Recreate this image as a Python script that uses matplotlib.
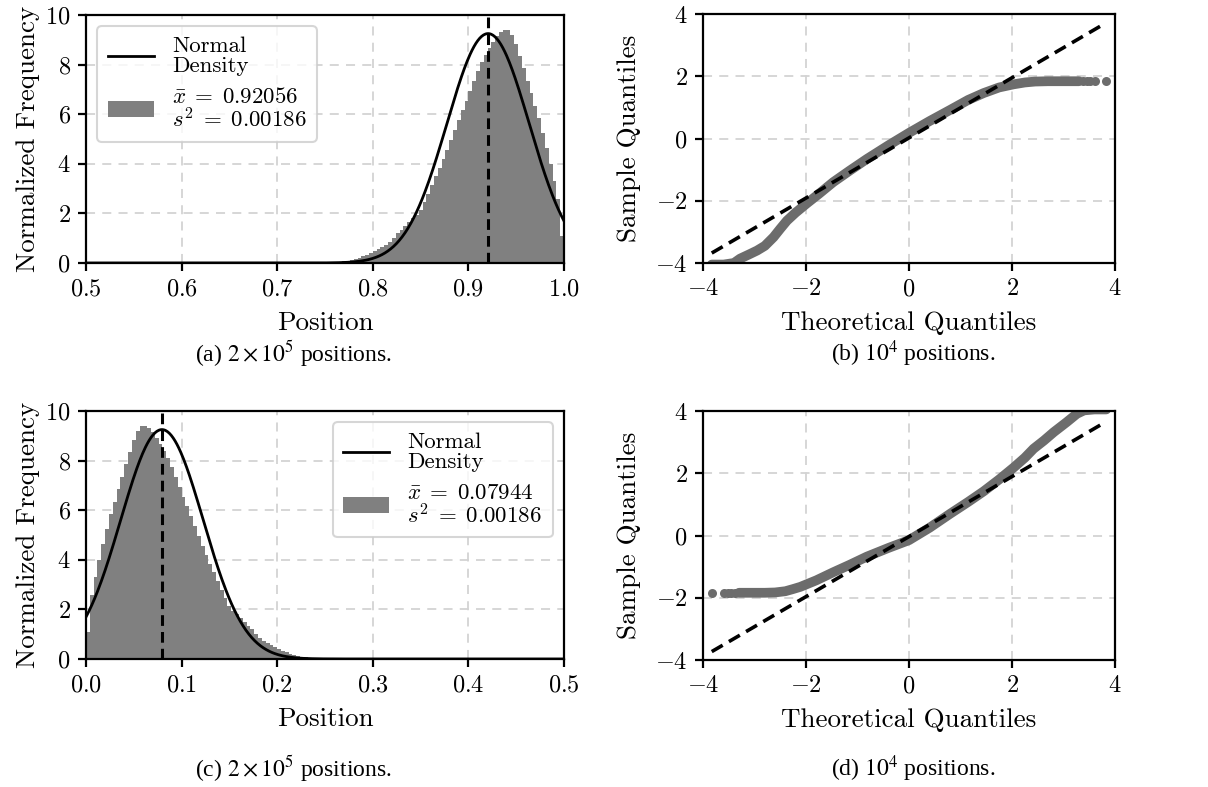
import matplotlib
matplotlib.use("Agg")
import matplotlib.pyplot as plt
import numpy as np

plt.rcParams["font.family"] = "serif"
plt.rcParams["font.serif"] = ["cmr10"]
plt.rcParams["mathtext.fontset"] = "cm"
plt.rcParams["axes.formatter.use_mathtext"] = True
plt.rcParams["axes.unicode_minus"] = True

# histogram (a): bin heights, width 0.004 starting at 0.740
hist_a_start = 0.740
hist_width = 0.004
hist_a_heights = [
    0.00, 0.01, 0.01, 0.02, 0.03, 0.04, 0.05, 0.07, 0.09, 0.12,
    0.16, 0.21, 0.27, 0.33, 0.40, 0.48, 0.56, 0.64, 0.72, 0.85,
    1.02, 1.20, 1.35, 1.50, 1.65, 1.80, 1.95, 2.15, 2.45, 2.80,
    3.15, 3.50, 3.85, 4.20, 4.55, 4.95, 5.35, 5.75, 6.15, 6.55,
    6.95, 7.35, 7.75, 8.10, 8.40, 8.65, 8.90, 9.15, 9.30, 9.40,
    9.38, 9.20, 8.85, 8.35, 7.85, 7.35, 6.85, 6.35, 5.85, 5.25,
    4.65, 4.00, 3.30, 2.60, 1.10,
]
mean_a, var_a = 0.92056, 0.00186
# histogram (c) is the mirror image of (a) around 0.5
hist_c_heights = hist_a_heights[::-1]
mean_c, var_c = 0.07944, 0.00186

# QQ plot (b)
qq_b_x = [-3.83, -3.6, -3.4, -3.28, -3.1, -2.95, -2.8, -2.63, -2.5, -2.37,
          -2.2, -1.98, -1.75, -1.47, -1.15, -0.82, -0.4, 0.0, 0.4, 0.8,
          1.15, 1.45, 1.75, 2.03, 2.25, 2.45, 2.7, 3.0, 3.2, 3.3]
qq_b_y = [-4.05, -4.05, -4.0, -3.86, -3.72, -3.6, -3.45, -3.17, -2.9, -2.64,
          -2.38, -2.08, -1.78, -1.40, -1.03, -0.66, -0.22, 0.18, 0.56, 0.92,
          1.24, 1.46, 1.64, 1.74, 1.80, 1.83, 1.84, 1.84, 1.84, 1.84]
qq_b_tail_x = [3.38, 3.45, 3.52, 3.62, 3.82]
qq_b_tail_y = [1.84, 1.84, 1.84, 1.84, 1.84]
qq_b_line_x = [-3.83, 3.81]
qq_b_line_y = [-3.68, 3.70]

# QQ plot (d)
qq_d_x = [-3.3, -3.1, -2.8, -2.6, -2.4, -2.25, -2.11, -1.8, -1.47, -1.15,
          -0.82, -0.4, 0.0, 0.4, 0.8, 1.15, 1.45, 1.75, 2.03, 2.25,
          2.42, 2.62, 2.81, 3.06, 3.26, 3.4, 3.6, 3.83]
qq_d_y = [-1.84, -1.84, -1.84, -1.83, -1.79, -1.72, -1.65, -1.44, -1.18, -0.94,
          -0.68, -0.40, -0.15, 0.25, 0.70, 1.08, 1.42, 1.80, 2.18, 2.50,
          2.79, 3.05, 3.32, 3.64, 3.91, 4.02, 4.05, 4.05]
qq_d_tail_x = [-3.82, -3.6, -3.52, -3.45, -3.38]
qq_d_tail_y = [-1.84, -1.84, -1.84, -1.84, -1.84]
qq_d_line_x = [-3.83, 3.81]
qq_d_line_y = [-3.73, 3.64]

captions = [
    r"(a) $2\times10^5$ positions.",
    r"(b) $10^4$ positions.",
    r"(c) $2\times10^5$ positions.",
    r"(d) $10^4$ positions.",
]

HIST_COLOR = "#808080"
QQ_COLOR = "#6c6c6c"
GRID_COLOR = "#d3d3d3"


def style_axes(ax):
    ax.grid(True, color=GRID_COLOR, linestyle=(0, (5, 4)), linewidth=1.3)
    ax.set_axisbelow(True)
    for sp in ax.spines.values():
        sp.set_linewidth(1.6)
    ax.tick_params(direction="out", length=6, width=1.6, labelsize=17.5, pad=5)


def draw_hist(ax, start, heights, mean, var, xlim, loc):
    edges = start + hist_width * np.arange(len(heights) + 1)
    ax.stairs(heights, edges, fill=True, color=HIST_COLOR, linewidth=0,
              label="$\\bar{x}\\;=\\;%.5f$\n$s^2\\;=\\;%.5f$" % (mean, var))
    xs = np.linspace(xlim[0], xlim[1], 500)
    sd = np.sqrt(var)
    pdf = np.exp(-0.5 * ((xs - mean) / sd) ** 2) / (sd * np.sqrt(2 * np.pi))
    ax.plot(xs, pdf, color="black", lw=2, label="Normal\nDensity")
    ax.axvline(mean, color="black", ls=(0, (3.5, 2)), lw=2.2)
    ax.set_xlim(*xlim)
    ax.set_ylim(0, 10)
    ax.set_xticks(np.linspace(xlim[0], xlim[1], 6))
    ax.xaxis.set_major_formatter(matplotlib.ticker.FormatStrFormatter("$%.1f$"))
    ax.set_yticks([0, 2, 4, 6, 8, 10])
    ax.set_xlabel("Position", fontsize=19.5, labelpad=8)
    ax.set_ylabel("Normalized Frequency", fontsize=19.5, labelpad=4)
    h, l = ax.get_legend_handles_labels()
    leg = ax.legend(h[::-1], l[::-1], loc=loc, fontsize=16.5, handlelength=2.0,
                    borderpad=0.45, labelspacing=0.5, framealpha=0.8,
                    edgecolor="#cccccc", fancybox=True, handletextpad=0.8)
    for t in leg.get_texts():
        t.set_linespacing(1.0)
    leg.get_frame().set_linewidth(1.5)
    style_axes(ax)


def draw_qq(ax, qx, qy, tx, ty, lx, ly):
    ax.plot(qx, qy, color=QQ_COLOR, lw=7, solid_capstyle="round",
            solid_joinstyle="round", zorder=2)
    ax.plot(tx, ty, "o", color=QQ_COLOR, ms=6.5, mew=0, zorder=2)
    ax.plot(lx, ly, color="black", ls=(0, (3.5, 2)), lw=2.6, zorder=3)
    ax.set_xlim(-4, 4)
    ax.set_ylim(-4, 4)
    ax.set_xticks([-4, -2, 0, 2, 4])
    ax.set_yticks([-4, -2, 0, 2, 4])
    ax.set_xlabel("Theoretical Quantiles", fontsize=19.5, labelpad=8)
    ax.set_ylabel("Sample Quantiles", fontsize=19.5, labelpad=10)
    style_axes(ax)


fig = plt.figure(figsize=(12.08, 7.87), dpi=100)
W, H = 1208.0, 787.0


def add_ax(l, t, r, b):
    return fig.add_axes([l / W, 1 - b / H, (r - l) / W, (b - t) / H])


ax_a = add_ax(86, 15, 564, 263)
ax_b = add_ax(703, 14, 1115, 263)
ax_c = add_ax(86, 411, 564, 659)
ax_d = add_ax(703, 411, 1115, 660)

draw_hist(ax_a, hist_a_start, hist_a_heights, mean_a, var_a, (0.5, 1.0), "upper left")
c_start = 1.0 - hist_a_start - hist_width * len(hist_a_heights)
draw_hist(ax_c, c_start, hist_c_heights, mean_c, var_c, (0.0, 0.5), "upper right")
draw_qq(ax_b, qq_b_x, qq_b_y, qq_b_tail_x, qq_b_tail_y, qq_b_line_x, qq_b_line_y)
draw_qq(ax_d, qq_d_x, qq_d_y, qq_d_tail_x, qq_d_tail_y, qq_d_line_x, qq_d_line_y)

cap_pos = [(293, 354), (913, 354), (293, 769), (913, 769)]
for (cx, cy), txt in zip(cap_pos, captions):
    fig.text(cx / W, 1 - cy / H, txt, ha="center", va="center", fontsize=17,
             family="Liberation Serif", math_fontfamily="stix")

fig.savefig("out.png", dpi=100)
